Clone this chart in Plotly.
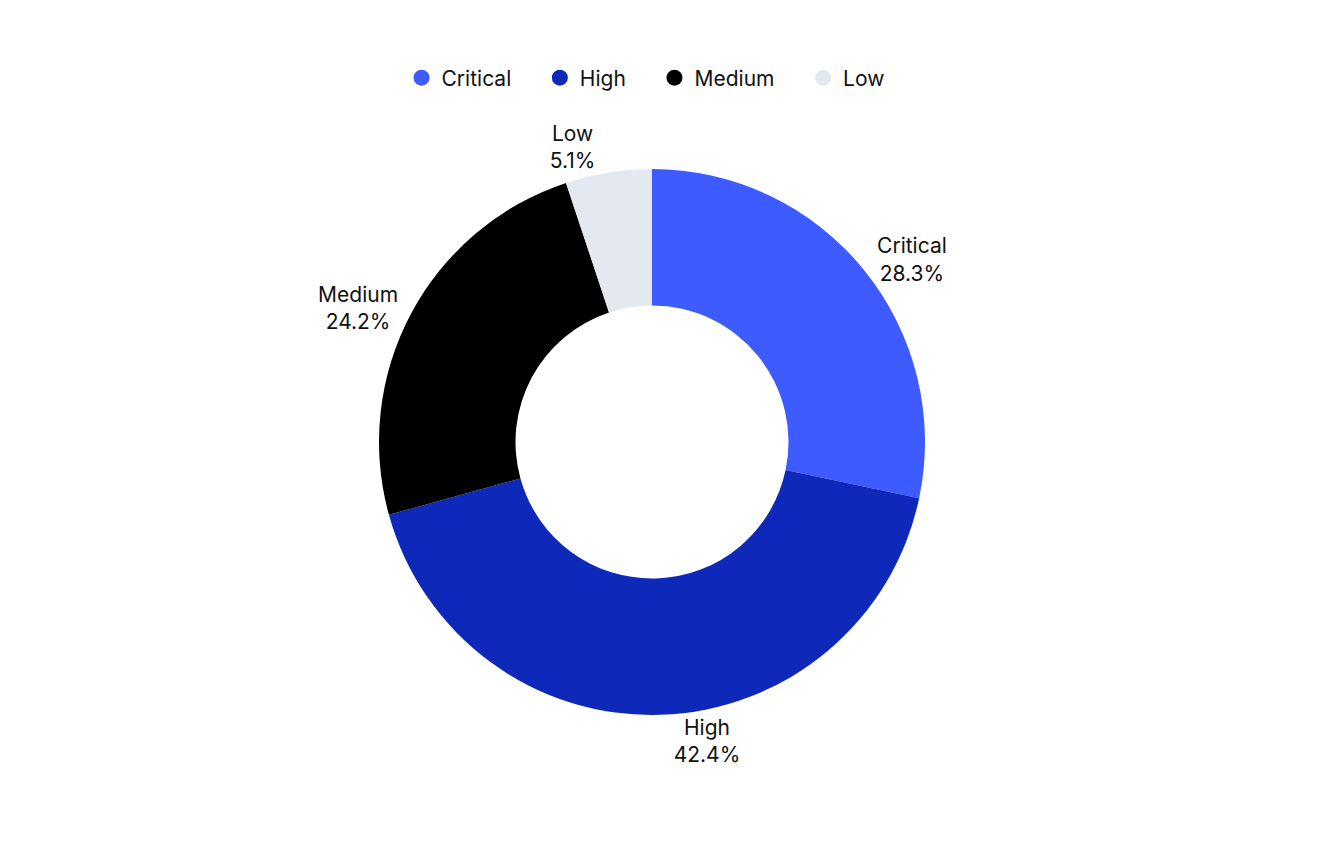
import plotly.graph_objects as go

categories = ["Critical", "High", "Medium", "Low"]
values = [28.3, 42.4, 24.2, 5.1]
colors = ["#3D5BFE", "#0E28B9", "#000000", "#E4E8F1"]

PAD = "\u00a0" * 4

fig = go.Figure()
fig.add_trace(go.Pie(
    labels=categories,
    values=values,
    hole=0.5,
    sort=False,
    direction="clockwise",
    rotation=0,
    marker=dict(colors=colors, line=dict(width=0)),
    textposition="outside",
    texttemplate="%{label}<br>%{value}%",
    textfont=dict(family="Inter", size=21, color="#111111"),
    showlegend=False,
    hoverinfo="label+percent",
))

for name, col in zip(categories, colors):
    fig.add_trace(go.Scatter(
        x=[None], y=[None], mode="markers", name=name + PAD,
        marker=dict(symbol="circle", size=20, color=col),
        showlegend=True,
    ))

fig.update_layout(
    width=1319, height=842,
    paper_bgcolor="white", plot_bgcolor="white",
    margin=dict(l=92, r=123, t=161, b=135, autoexpand=False),
    font=dict(family="Inter", size=21, color="#111111"),
    legend=dict(orientation="h", x=0.505, xanchor="center", y=1.1667, yanchor="middle",
                font=dict(family="Inter", size=21, color="#111111"),
                itemwidth=30),
    xaxis=dict(visible=False),
    yaxis=dict(visible=False),
)

fig.write_html("out.html")
